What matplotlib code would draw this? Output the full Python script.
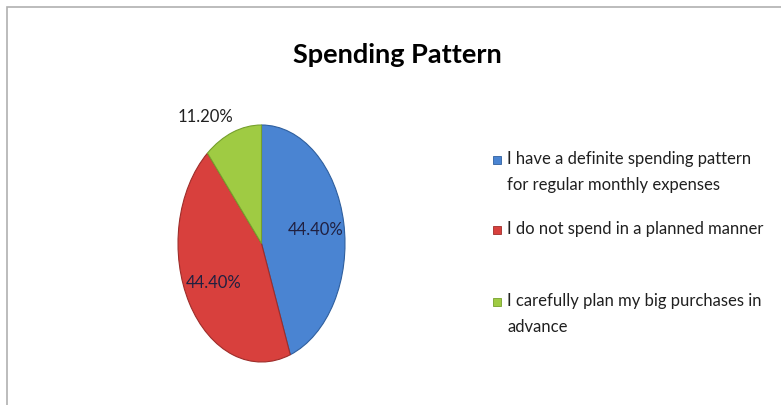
import matplotlib
matplotlib.use('Agg')
from matplotlib import pyplot as plt
from matplotlib.patches import Rectangle

# data
categories = ['I have a definite spending pattern\nfor regular monthly expenses',
              'I do not spend in a planned manner',
              'I carefully plan my big purchases in\nadvance']
values = [44.4, 44.4, 11.2]
colors = ['#4a84d2', '#d8403d', '#9fcb43']
edge_colors = ['#2f5f9e', '#9e2d2a', '#76a02c']

plt.rcParams['font.family'] = ['Lato', 'DejaVu Sans']

W, H = 781, 405
fig = plt.figure(figsize=(W / 100, H / 100), dpi=100)

# outer frame
fig.patches.append(Rectangle((7 / W, -0.01), 1.02, (405 - 7) / H + 0.01,
                             transform=fig.transFigure, fill=False,
                             edgecolor='#b0b0b0', linewidth=1.2))

fig.text(397 / W, 1 - 55 / H, 'Spending Pattern', ha='center', va='center',
         fontsize=19.5, fontweight='bold', color='black')

# pie, stretched vertically like the original
ax = fig.add_axes([178 / W, 1 - 362 / H, 167 / W, 237 / H])
wedges, texts, autotexts = ax.pie(values, colors=colors, startangle=90,
                                  counterclock=False, autopct='%.2f%%',
                                  pctdistance=0.66,
                                  wedgeprops=dict(linewidth=0.8),
                                  textprops=dict(fontsize=12, color='#202040'))
for w, ec in zip(wedges, edge_colors):
    w.set_edgecolor(ec)
ax.set_aspect('auto')
ax.set_xlim(-1, 1)
ax.set_ylim(-1, 1)
ax.axis('off')
# small slice label sits outside the pie
autotexts[2].set_position((-0.67, 1.07))
autotexts[2].set_color('#202020')

# legend
leg_y = [160, 230, 302]
for lab, c, ec, y in zip(categories, colors, edge_colors, leg_y):
    fig.patches.append(Rectangle((493 / W, 1 - (y + 4) / H), 8 / W, 8 / H,
                                 transform=fig.transFigure, facecolor=c,
                                 edgecolor=ec, linewidth=0.6))
    fig.text(507 / W, 1 - (y - 9) / H, lab, ha='left', va='top',
             fontsize=12, color='#202020', linespacing=1.8)

fig.savefig('out.png', dpi=100)
